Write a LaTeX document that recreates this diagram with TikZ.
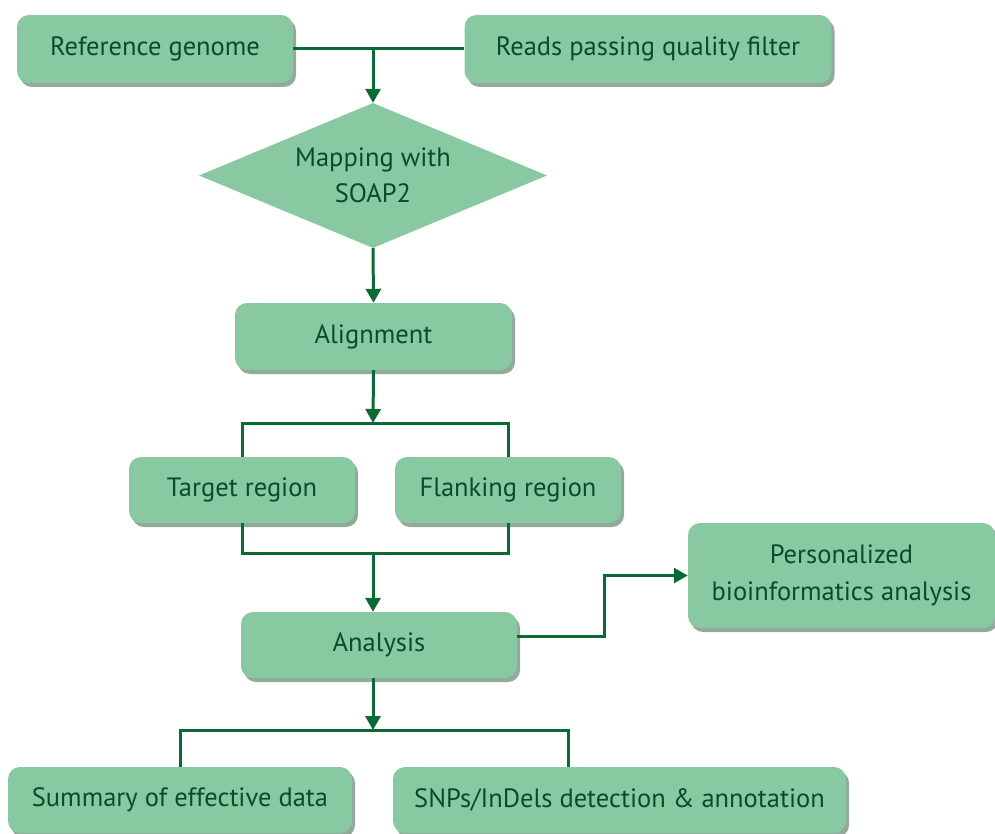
\documentclass[tikz,border=0pt]{standalone}
\usepackage{fontspec}
\setmainfont{PT Sans}
\usetikzlibrary{shapes.geometric,arrows.meta,shadows,calc}
\definecolor{boxfill}{HTML}{88C9A1}
\definecolor{txt}{HTML}{0B4A2C}
\definecolor{lin}{HTML}{0A6A35}
\definecolor{shd}{HTML}{4A705A}
\begin{document}
\begin{tikzpicture}[x=1pt,y=-1pt,
  box/.style={rectangle,rounded corners=12pt,fill=boxfill,text=txt,align=center,inner sep=0pt,
    font=\fontsize{26.5}{37}\selectfont,
    drop shadow={shadow xshift=3pt,shadow yshift=-4pt,fill=shd,opacity=0.6}},
  dia/.style={diamond,fill=boxfill,text=txt,align=center,inner sep=0pt,aspect=2.4,
    minimum width=348pt,minimum height=145pt,font=\fontsize{26.5}{36}\selectfont},
  ln/.style={draw=lin,line width=3pt},
  arr/.style={ln,-{Triangle[length=14pt,width=15pt]}}]
\useasboundingbox (0,0) rectangle (995,834);
\node[box,minimum width=276pt,minimum height=68pt] (ref) at (155,49) {Reference genome};
\node[box,minimum width=367pt,minimum height=68pt] (reads) at (648,49) {Reads passing quality filter};
\node[dia] (map) at (373,175.5) {Mapping with\\SOAP2};
\node[box,minimum width=277pt,minimum height=67pt] (align) at (373.5,336.5) {Alignment};
\node[box,minimum width=226pt,minimum height=66pt] (target) at (242,490) {Target region};
\node[box,minimum width=226pt,minimum height=66pt] (flank) at (508,490) {Flanking region};
\node[box,minimum width=276pt,minimum height=66pt] (analysis) at (379,645) {Analysis};
\node[box,minimum width=307pt,minimum height=105pt] (pers) at (841.5,575.5) {Personalized\\bioinformatics analysis};
\node[box,minimum width=344pt,minimum height=66pt] (summ) at (180,800) {Summary of effective data};
\node[box,minimum width=453pt,minimum height=66pt] (snps) at (619.5,800) {SNPs/InDels detection \& annotation};
\coordinate (j1) at (373,49);
\coordinate (j2) at (373,423);
\coordinate (j3) at (373,553);
\coordinate (j4) at (373,730);
\coordinate (s2) at (568,767);
\coordinate (b1) at (604,636);
\draw[ln] (ref.east) -- (reads.west);
\draw[arr] (j1) -- (map.north);
\draw[arr] (map.south) -- (align.north);
\draw[arr] (align.south) -- (j2);
\draw[ln] (target.north) |- (j2) -| (flank.north);
\draw[ln] (target.south) |- (j3) -| (flank.south);
\draw[arr] (j3) -- (analysis.north -| j3);
\draw[arr] (analysis.east |- b1) -- (b1) |- (pers.west);
\draw[arr] (analysis.south -| j4) -- (j4);
\draw[ln] (summ.north) |- (j4) -| (s2);
\end{tikzpicture}
\end{document}
